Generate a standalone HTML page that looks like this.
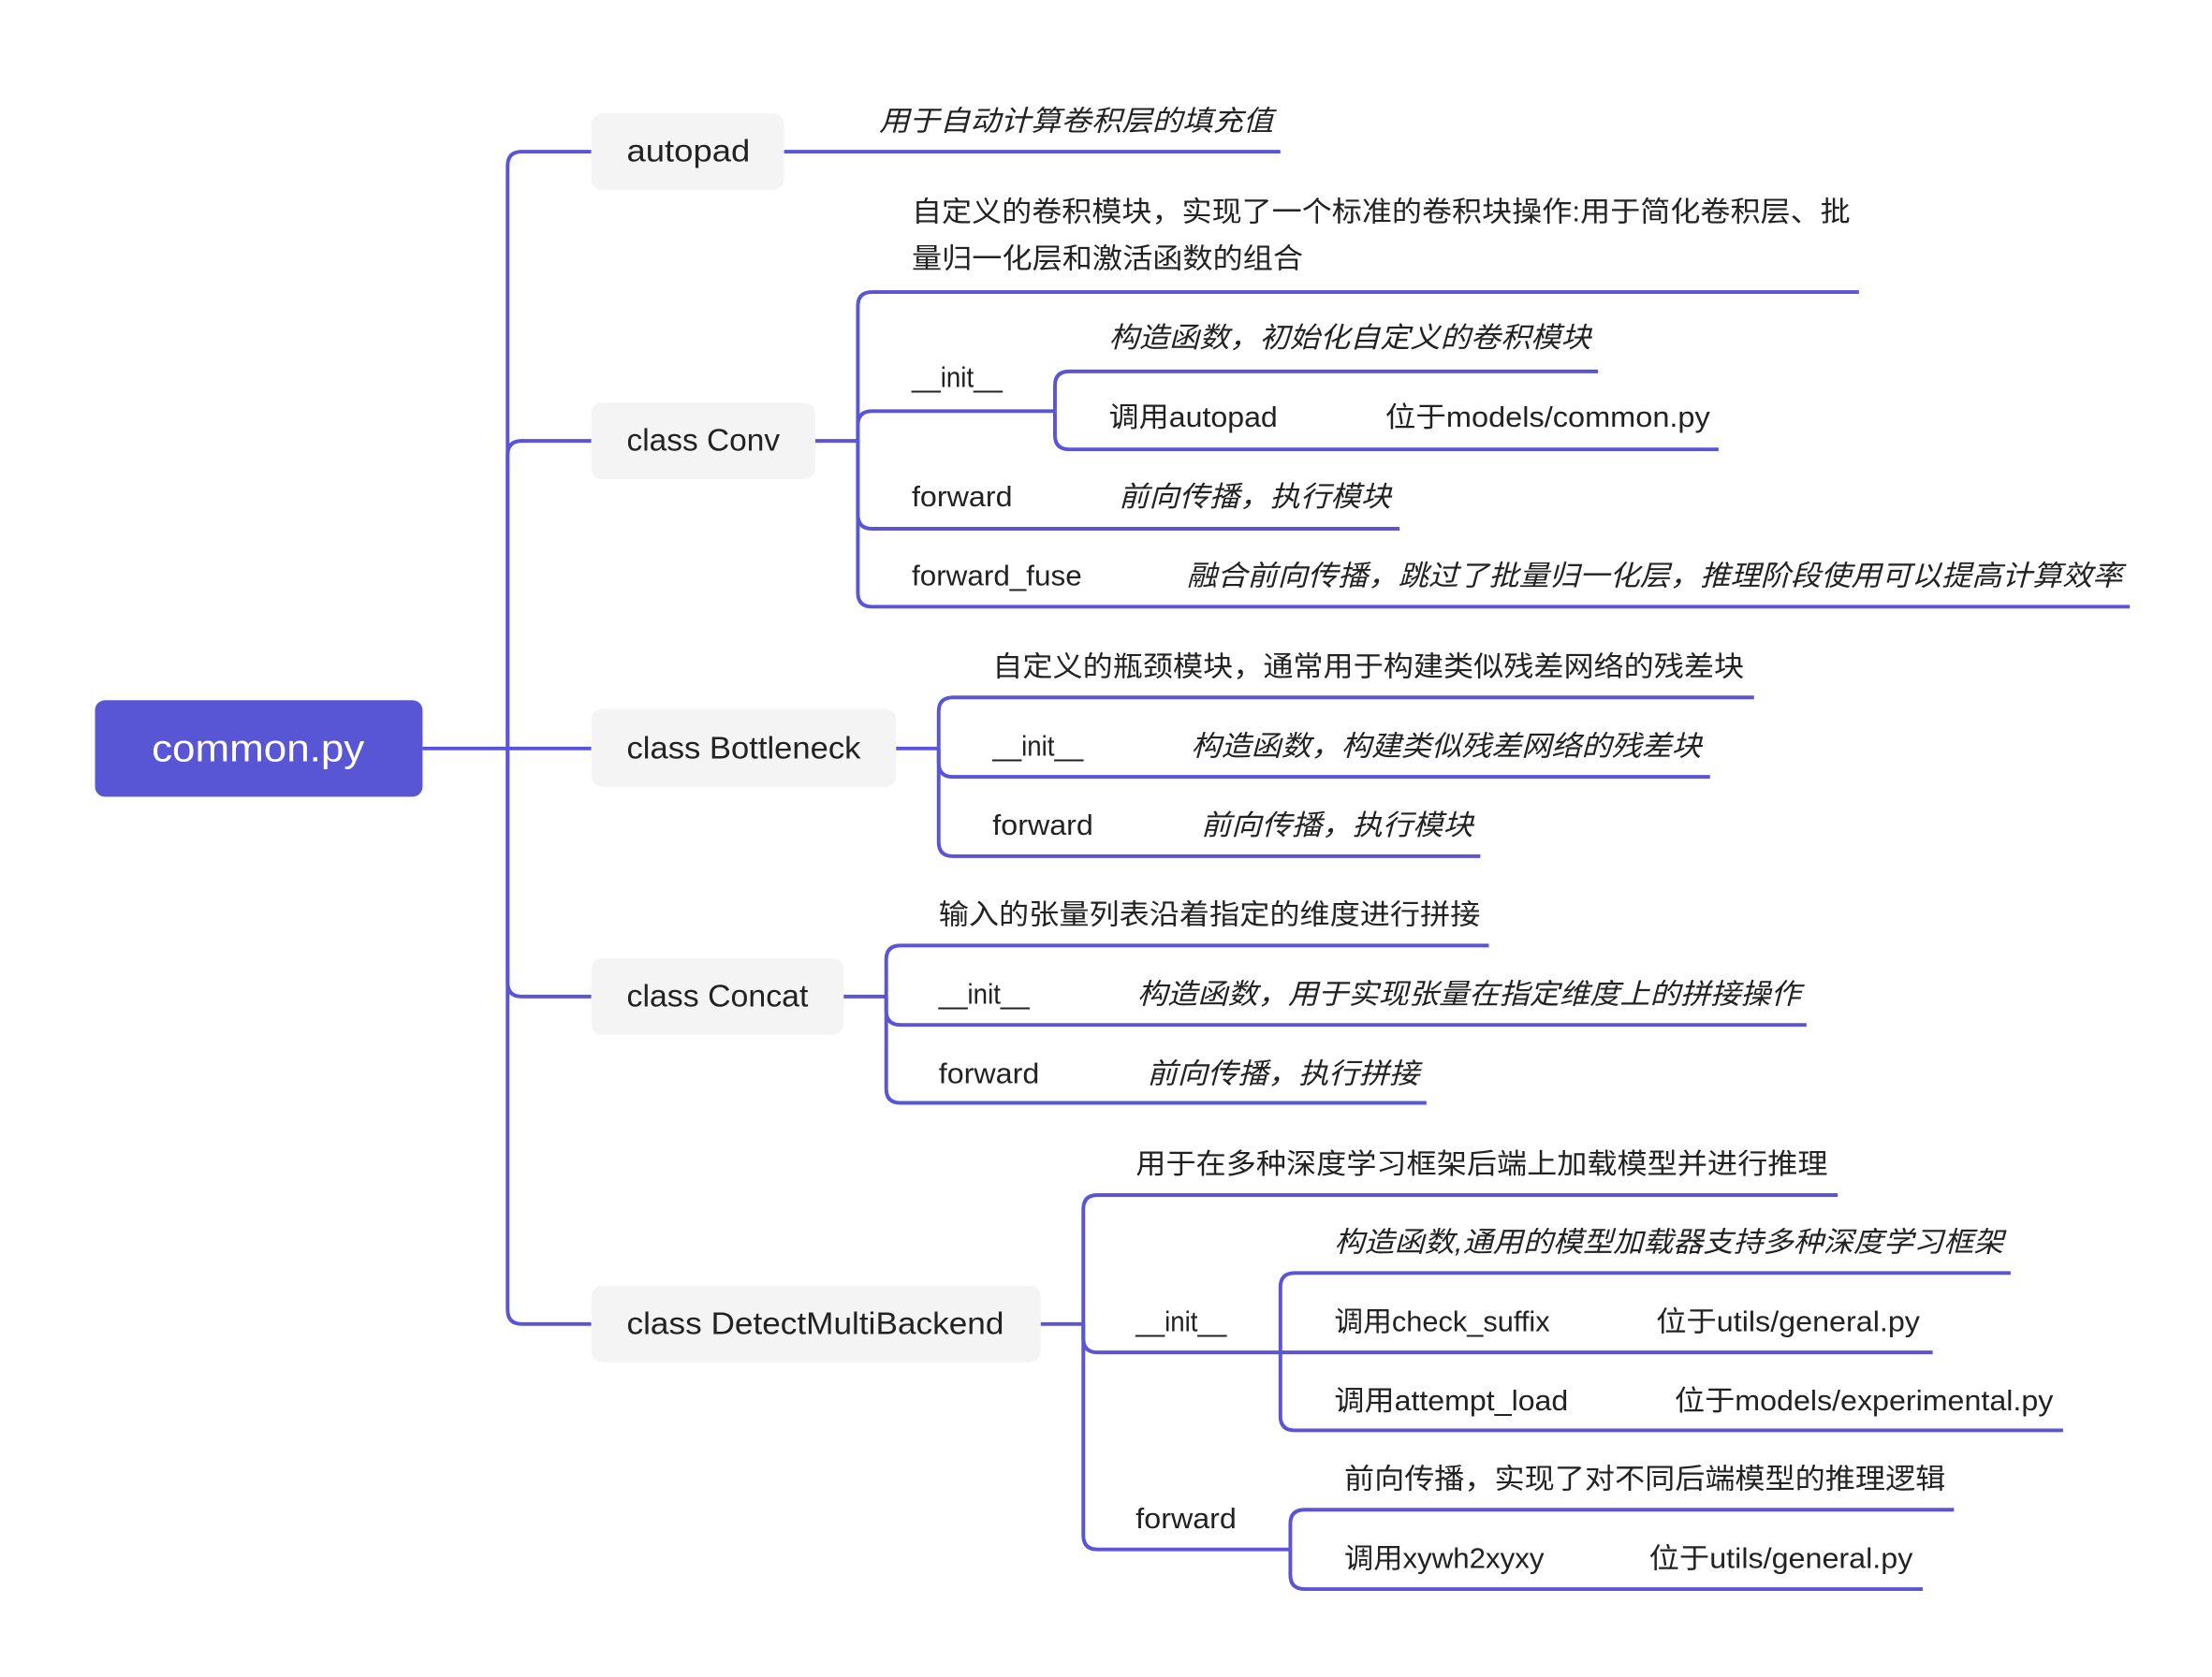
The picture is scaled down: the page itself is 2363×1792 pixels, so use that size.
<!DOCTYPE html>
<html><head><meta charset="utf-8">
<style>
html,body{margin:0;padding:0;background:#fff;}
svg{display:block;}
text{font-family:"Liberation Sans","Noto Sans CJK SC",sans-serif;fill:#222;}
.n{font-size:22px;}
.t{font-size:20px;}
.i{font-size:20px;font-style:italic;}
.l{fill:none;stroke:#5a55d6;stroke-width:2.6;stroke-linecap:butt;}
</style></head>
<body>
<svg width="2363" height="1792" viewBox="0 0 1560 1183" preserveAspectRatio="none" xmlns="http://www.w3.org/2000/svg">
<!-- root -->
<rect x="67" y="494" width="231" height="68" rx="7" fill="#5956d6"/>
<text x="182" y="537" text-anchor="middle" style="font-size:27px;fill:#fff" textLength="150" lengthAdjust="spacingAndGlyphs">common.py</text>

<!-- trunk -->
<path class="l" d="M298,528 H417"/>
<path class="l" d="M358,528 V117 Q358,107 368,107 H417"/>
<path class="l" d="M358,528 V321 Q358,311 368,311 H417"/>
<path class="l" d="M358,528 V693 Q358,703 368,703 H417"/>
<path class="l" d="M358,528 V924 Q358,934 368,934 H417"/>

<!-- nodes -->
<rect x="417" y="80" width="136" height="54" rx="8" fill="#f4f4f4"/>
<text class="n" x="442" y="114" textLength="87" lengthAdjust="spacingAndGlyphs">autopad</text>
<rect x="417" y="284" width="158" height="54" rx="8" fill="#f4f4f4"/>
<text class="n" x="442" y="318" textLength="108" lengthAdjust="spacingAndGlyphs">class Conv</text>
<rect x="417" y="500" width="215" height="55" rx="8" fill="#f4f4f4"/>
<text class="n" x="442" y="535" textLength="165" lengthAdjust="spacingAndGlyphs">class Bottleneck</text>
<rect x="417" y="676" width="178" height="54" rx="8" fill="#f4f4f4"/>
<text class="n" x="442" y="710" textLength="128" lengthAdjust="spacingAndGlyphs">class Concat</text>
<rect x="417" y="907" width="317" height="54" rx="8" fill="#f4f4f4"/>
<text class="n" x="442" y="941" textLength="266" lengthAdjust="spacingAndGlyphs">class DetectMultiBackend</text>

<!-- autopad -->
<path class="l" d="M553,107 H903"/>
<text class="i" x="620" y="92" textLength="278" lengthAdjust="spacingAndGlyphs">用于自动计算卷积层的填充值</text>

<!-- Conv -->
<path class="l" d="M575,311 H605"/>
<path class="l" d="M605,311 V216 Q605,206 615,206 H1311"/>
<path class="l" d="M605,311 V300 Q605,290 615,290 H744"/>
<path class="l" d="M605,311 V363 Q605,373 615,373 H987"/>
<path class="l" d="M605,311 V418 Q605,428 615,428 H1502"/>
<text class="t" x="643" y="156" textLength="662" lengthAdjust="spacingAndGlyphs">自定义的卷积模块，实现了一个标准的卷积块操作:用于简化卷积层、批</text>
<text class="t" x="643" y="189" textLength="276" lengthAdjust="spacingAndGlyphs">量归一化层和激活函数的组合</text>
<text class="t" x="643" y="273" textLength="64" lengthAdjust="spacingAndGlyphs">__init__</text>
<text class="t" x="643" y="357" textLength="71" lengthAdjust="spacingAndGlyphs">forward</text>
<text class="i" x="789" y="357" textLength="192" lengthAdjust="spacingAndGlyphs">前向传播，执行模块</text>
<text class="t" x="643" y="413" textLength="120" lengthAdjust="spacingAndGlyphs">forward_fuse</text>
<text class="i" x="837" y="413" textLength="660" lengthAdjust="spacingAndGlyphs">融合前向传播，跳过了批量归一化层，推理阶段使用可以提高计算效率</text>
<!-- Conv init sub -->
<path class="l" d="M744,290 V272 Q744,262 754,262 H1127"/>
<path class="l" d="M744,290 V307 Q744,317 754,317 H1212"/>
<text class="i" x="782" y="245" textLength="340" lengthAdjust="spacingAndGlyphs">构造函数，初始化自定义的卷积模块</text>
<text class="t" x="782" y="301" textLength="119" lengthAdjust="spacingAndGlyphs">调用autopad</text>
<text class="t" x="977" y="301" textLength="229" lengthAdjust="spacingAndGlyphs">位于models/common.py</text>

<!-- Bottleneck -->
<path class="l" d="M632,528 H662"/>
<path class="l" d="M662,528 V502 Q662,492 672,492 H1237"/>
<path class="l" d="M662,528 V538 Q662,548 672,548 H1206"/>
<path class="l" d="M662,528 V594 Q662,604 672,604 H1044"/>
<text class="t" x="700" y="477" textLength="530" lengthAdjust="spacingAndGlyphs">自定义的瓶颈模块，通常用于构建类似残差网络的残差块</text>
<text class="t" x="700" y="533" textLength="64" lengthAdjust="spacingAndGlyphs">__init__</text>
<text class="i" x="840" y="533" textLength="360" lengthAdjust="spacingAndGlyphs">构造函数，构建类似残差网络的残差块</text>
<text class="t" x="700" y="589" textLength="71" lengthAdjust="spacingAndGlyphs">forward</text>
<text class="i" x="847" y="589" textLength="192" lengthAdjust="spacingAndGlyphs">前向传播，执行模块</text>

<!-- Concat -->
<path class="l" d="M595,703 H625"/>
<path class="l" d="M625,703 V677 Q625,667 635,667 H1050"/>
<path class="l" d="M625,703 V713 Q625,723 635,723 H1274"/>
<path class="l" d="M625,703 V768 Q625,778 635,778 H1006"/>
<text class="t" x="662" y="652" textLength="382" lengthAdjust="spacingAndGlyphs">输入的张量列表沿着指定的维度进行拼接</text>
<text class="t" x="662" y="708" textLength="64" lengthAdjust="spacingAndGlyphs">__init__</text>
<text class="i" x="802" y="708" textLength="468" lengthAdjust="spacingAndGlyphs">构造函数，用于实现张量在指定维度上的拼接操作</text>
<text class="t" x="662" y="764" textLength="71" lengthAdjust="spacingAndGlyphs">forward</text>
<text class="i" x="809" y="764" textLength="192" lengthAdjust="spacingAndGlyphs">前向传播，执行拼接</text>

<!-- DetectMultiBackend -->
<path class="l" d="M734,934 H764"/>
<path class="l" d="M764,934 V853 Q764,843 774,843 H1296"/>
<path class="l" d="M764,934 V944 Q764,954 774,954 H903"/>
<path class="l" d="M764,934 V1083 Q764,1093 774,1093 H910"/>
<text class="t" x="801" y="828" textLength="488" lengthAdjust="spacingAndGlyphs">用于在多种深度学习框架后端上加载模型并进行推理</text>
<text class="t" x="801" y="939" textLength="64" lengthAdjust="spacingAndGlyphs">__init__</text>
<text class="t" x="801" y="1078" textLength="71" lengthAdjust="spacingAndGlyphs">forward</text>
<!-- init sub -->
<path class="l" d="M903,954 V908 Q903,898 913,898 H1418"/>
<path class="l" d="M903,954 H1363"/>
<path class="l" d="M903,954 V999 Q903,1009 913,1009 H1455"/>
<text class="i" x="941" y="883" textLength="472" lengthAdjust="spacingAndGlyphs">构造函数,通用的模型加载器支持多种深度学习框架</text>
<text class="t" x="941" y="939" textLength="152" lengthAdjust="spacingAndGlyphs">调用check_suffix</text>
<text class="t" x="1168" y="939" textLength="186" lengthAdjust="spacingAndGlyphs">位于utils/general.py</text>
<text class="t" x="941" y="995" textLength="165" lengthAdjust="spacingAndGlyphs">调用attempt_load</text>
<text class="t" x="1181" y="995" textLength="267" lengthAdjust="spacingAndGlyphs">位于models/experimental.py</text>
<!-- forward sub -->
<path class="l" d="M910,1093 V1075 Q910,1065 920,1065 H1378"/>
<path class="l" d="M910,1093 V1111 Q910,1121 920,1121 H1356"/>
<text class="t" x="948" y="1050" textLength="424" lengthAdjust="spacingAndGlyphs">前向传播，实现了对不同后端模型的推理逻辑</text>
<text class="t" x="948" y="1106" textLength="141" lengthAdjust="spacingAndGlyphs">调用xywh2xyxy</text>
<text class="t" x="1163" y="1106" textLength="186" lengthAdjust="spacingAndGlyphs">位于utils/general.py</text>
</svg>
</body></html>
